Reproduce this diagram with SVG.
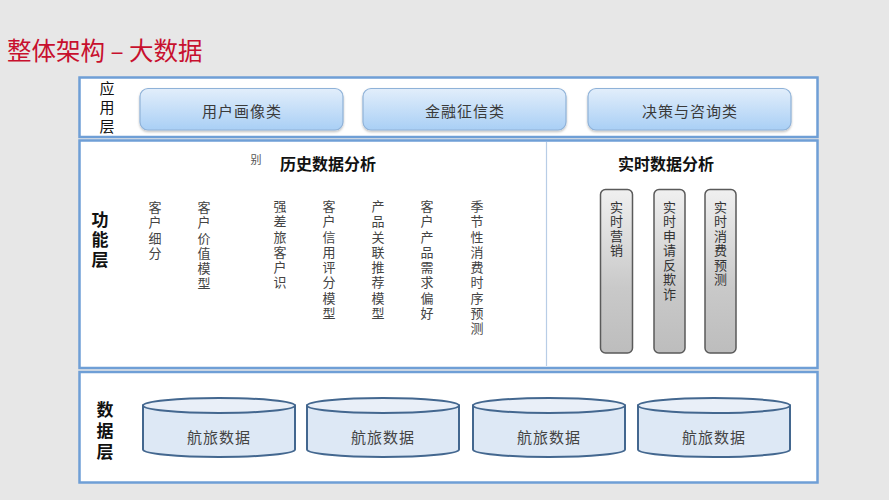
<svg xmlns="http://www.w3.org/2000/svg" width="889" height="500" viewBox="0 0 889 500">
<defs>
<linearGradient id="btnG" x1="0" y1="0" x2="0" y2="1">
<stop offset="0" stop-color="#e2eefb"/>
<stop offset="1" stop-color="#a9cff5"/>
</linearGradient>
<linearGradient id="pilG" x1="0" y1="0" x2="0" y2="1">
<stop offset="0" stop-color="#f0f0f0"/>
<stop offset="0.6" stop-color="#c9c9c9"/>
<stop offset="1" stop-color="#bdbdbd"/>
</linearGradient>
<filter id="sh" x="-10%" y="-10%" width="120%" height="130%">
<feDropShadow dx="0" dy="1.5" stdDeviation="1" flood-color="#000" flood-opacity="0.25"/>
</filter>
</defs>
<style>
text{font-family:"Noto Sans CJK SC","Liberation Sans",sans-serif;}
.v{writing-mode:vertical-rl;text-orientation:upright;}
.panel{fill:#ffffff;stroke:#6f9fd6;stroke-width:2.5;}
.btn{fill:url(#btnG);stroke:#8fb2d8;stroke-width:1.2;}
.btnT{font-size:15px;fill:#3a3a3a;text-anchor:middle;letter-spacing:1px;}
.lay{font-size:15px;fill:#111;letter-spacing:4px;}
.layB{font-size:17px;fill:#111;font-weight:bold;letter-spacing:3px;}
.head{font-size:16px;fill:#111;text-anchor:middle;font-weight:bold;}
.col{font-size:13px;fill:#444;letter-spacing:2.3px;}
.pcol{font-size:13px;fill:#333;letter-spacing:1.5px;}
.pil{fill:url(#pilG);stroke:#5a5a5a;stroke-width:1.5;}
.cylB{fill:#dde8f5;stroke:#43678f;stroke-width:2;}
.cylT{fill:#e9eff8;stroke:#43678f;stroke-width:2;}
.cylTx{font-size:15px;fill:#444;text-anchor:middle;letter-spacing:1px;}
</style>
<rect x="0" y="0" width="889" height="500" fill="#e7e7e7"/>
<text x="7" y="60" font-size="24.5" fill="#c8102e">整体架构 – 大数据</text>

<g id="app-layer">
<rect class="panel" x="79.5" y="77.5" width="738" height="59.5"/>
<text class="v lay" x="107" y="81">应用层</text>
</g>
<g id="btn-user">
<rect class="btn" filter="url(#sh)" x="140" y="88.5" width="203" height="41.5" rx="8"/>
<text class="btnT" x="242" y="117">用户画像类</text>
</g>
<g id="btn-credit">
<rect class="btn" filter="url(#sh)" x="363" y="88.5" width="203" height="41.5" rx="8"/>
<text class="btnT" x="465" y="117">金融征信类</text>
</g>
<g id="btn-decision">
<rect class="btn" filter="url(#sh)" x="588" y="88.5" width="203" height="41.5" rx="8"/>
<text class="btnT" x="690" y="117">决策与咨询类</text>
</g>

<g id="func-layer">
<rect class="panel" x="79.5" y="140.5" width="738" height="227.5"/>
<line x1="546.5" y1="142" x2="546.5" y2="366" stroke="#b8cde6" stroke-width="1.2"/>
<text class="v layB" x="100" y="211">功能层</text>
</g>

<g id="history">
<text x="256" y="164" font-size="11" fill="#555" text-anchor="middle">别</text>
<text class="head" x="328" y="170">历史数据分析</text>
<text class="v col" x="155" y="200.5">客户细分</text>
<text class="v col" x="204" y="200.5">客户价值模型</text>
<text class="v col" x="280" y="199.5">强差旅客户识</text>
<text class="v col" x="329" y="199.5">客户信用评分模型</text>
<text class="v col" x="378" y="199.5">产品关联推荐模型</text>
<text class="v col" x="427" y="199.5">客户产品需求偏好</text>
<text class="v col" x="477" y="199.5">季节性消费时序预测</text>
</g>

<g id="realtime">
<text class="head" x="666" y="170">实时数据分析</text>
</g>
<g id="rt-marketing">
<rect class="pil" x="600.5" y="189.5" width="32" height="163.5" rx="5"/>
<text class="v pcol" x="616.5" y="200.5">实时营销</text>
</g>
<g id="rt-antifraud">
<rect class="pil" x="654" y="189.5" width="31" height="163.5" rx="5"/>
<text class="v pcol" x="669.5" y="200.5">实时申请反欺诈</text>
</g>
<g id="rt-consume">
<rect class="pil" x="705" y="189.5" width="31" height="163.5" rx="5"/>
<text class="v pcol" x="720.5" y="200.5">实时消费预测</text>
</g>

<g id="data-layer">
<rect class="panel" x="79.5" y="372" width="738" height="110.5"/>
<text class="v layB" font-size="16" style="letter-spacing:4px" x="105" y="401">数据层</text>
</g>
<g id="db1">
<path class="cylB" d="M143,405.5 L143,449.5 A76,7.5 0 0 0 295,449.5 L295,405.5 Z"/>
<ellipse class="cylT" cx="219" cy="405.5" rx="76" ry="7.5"/>
<text class="cylTx" x="219" y="443">航旅数据</text>
</g>
<g id="db2">
<path class="cylB" d="M307,405.5 L307,449.5 A76,7.5 0 0 0 459,449.5 L459,405.5 Z"/>
<ellipse class="cylT" cx="383" cy="405.5" rx="76" ry="7.5"/>
<text class="cylTx" x="383" y="443">航旅数据</text>
</g>
<g id="db3">
<path class="cylB" d="M473,405.5 L473,449.5 A76,7.5 0 0 0 625,449.5 L625,405.5 Z"/>
<ellipse class="cylT" cx="549" cy="405.5" rx="76" ry="7.5"/>
<text class="cylTx" x="549" y="443">航旅数据</text>
</g>
<g id="db4">
<path class="cylB" d="M638,405.5 L638,449.5 A76,7.5 0 0 0 790,449.5 L790,405.5 Z"/>
<ellipse class="cylT" cx="714" cy="405.5" rx="76" ry="7.5"/>
<text class="cylTx" x="714" y="443">航旅数据</text>
</g>
<g id="connectors"/>
</svg>
